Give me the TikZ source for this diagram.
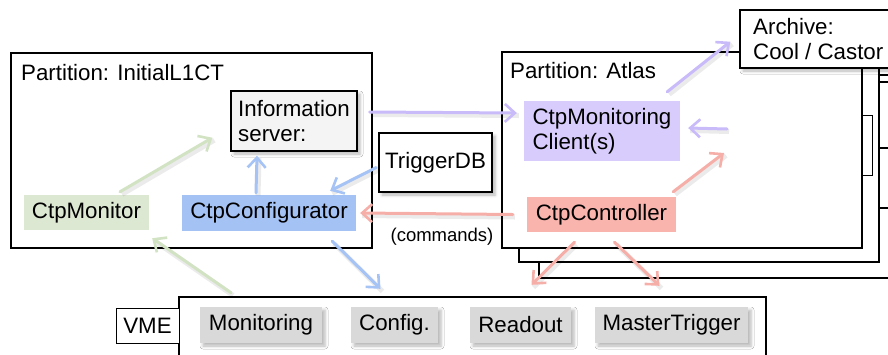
\documentclass[tikz,border=0pt]{standalone}
\usepackage{fontspec}
\setmainfont{Liberation Sans}
\usetikzlibrary{arrows.meta,shadows.blur,calc}
\definecolor{gfill}{HTML}{DDE8D3}
\definecolor{bfill}{HTML}{A4C2F4}
\definecolor{pfill}{HTML}{D8CCFC}
\definecolor{rfill}{HTML}{F9B4AE}
\definecolor{gyfill}{HTML}{D9D9D9}
\definecolor{infofill}{HTML}{F4F4F4}
\definecolor{garrc}{HTML}{D2E3C4}
\definecolor{barrc}{HTML}{A6C3F6}
\definecolor{parrc}{HTML}{C9BBFA}
\definecolor{rarrc}{HTML}{F6AEA8}
\begin{document}
\begin{tikzpicture}[x=1pt,y=-1pt,
  every node/.style={font=\fontsize{22.3}{25}\selectfont, inner sep=0pt},
  frame/.style={draw=black, line width=1.8pt, fill=white, rectangle},
  box/.style={draw=black, line width=1.4pt, rectangle},
  sh/.style={blur shadow={shadow xshift=3pt, shadow yshift=-3pt, shadow blur radius=3pt, shadow opacity=28}},
  flat/.style={rectangle, draw=none},
  lbl/.style={anchor=base west},
  arr/.style={line width=3pt, line cap=round,
    -{Straight Barb[length=10pt,width=18pt,line width=2.6pt]},
    preaction={draw=black, draw opacity=0.08, line width=5pt, -, transform canvas={shift={(2pt,-2.5pt)}}}},
  garr/.style={arr, draw=garrc},
  barr/.style={arr, draw=barrc},
  parr/.style={arr, draw=parrc},
  rarr/.style={arr, draw=rarrc}]
\useasboundingbox (0,0) rectangle (888,354);
\clip (0,0) rectangle (888,354);

% stacked partitions behind Atlas
\node[frame, minimum width=370pt, minimum height=203pt] (frameC) at (724,176.5) {};
\node[frame, minimum width=360pt, minimum height=202pt] (frameB) at (699,161) {};
\draw[line width=1.4pt] (879,82) -- (892,82);
\draw[line width=1.4pt] (879,148) -- (892,148);
\draw[line width=1.4pt] (879,208) -- (892,208);
\node[frame, minimum width=360pt, minimum height=196pt] (partA) at (682,150) {};
\node[box, fill=white, line width=1pt, minimum width=10pt, minimum height=60pt] (tab) at (867,145) {};
\node[lbl] (partAl) at (510,78) {Partition: Atlas};

% InitialL1CT partition
\node[frame, minimum width=361pt, minimum height=195pt] (partI) at (191.5,150.5) {};
\node[lbl] (partIl) at (21,80) {Partition: InitialL1CT};

% archive
\node[box, fill=white, sh, minimum width=160pt, minimum height=58pt] (archive) at (820,39) {};
\node[lbl, align=left] (archl) at (753,34) {Archive:};
\node[lbl, align=left] (archl2) at (753,59) {Cool / Castor};

% boxes
\node[box, fill=infofill, sh, minimum width=126pt, minimum height=60pt, align=left] (info) at (294,121) {Information\\server:};
\node[flat, fill=gfill, minimum width=125pt, minimum height=35pt] (ctpmon) at (86.5,212.5) {CtpMonitor};
\node[flat, fill=bfill, minimum width=174pt, minimum height=36pt] (ctpconf) at (269,213) {CtpConfigurator};
\node[box, fill=white, sh, minimum width=113pt, minimum height=59pt] (trigdb) at (435.5,162.5) {TriggerDB};
\node[font=\fontsize{18.5}{20}\selectfont] (cmds) at (442,237) {(commands)};
\node[flat, fill=pfill, minimum width=156pt, minimum height=60pt, align=left] (ctpmc) at (602,131) {CtpMonitoring\\Client(s)};
\node[flat, fill=rfill, minimum width=149pt, minimum height=35pt] (ctpctl) at (601.5,214.5) {CtpController};

% VME
\node[box, fill=white, line width=1.6pt, minimum width=587pt, minimum height=80pt] (vme) at (472.5,337) {};
\node[box, fill=white, line width=1pt, minimum width=63pt, minimum height=35pt] (vmel) at (147.5,325.5) {VME};
\node[flat, fill=gyfill, sh, minimum width=122pt, minimum height=36pt] (mon) at (261,325) {Monitoring};
\node[flat, fill=gyfill, sh, minimum width=87pt, minimum height=36pt] (cfg) at (394.5,325) {Config.};
\node[flat, fill=gyfill, sh, minimum width=101pt, minimum height=36pt] (rdo) at (520.5,325) {Readout};
\node[flat, fill=gyfill, sh, minimum width=153pt, minimum height=36pt] (mt) at (671.5,325) {MasterTrigger};

% free ends
\coordinate (pin) at (727,129);
\coordinate (pout) at (724,153);

% arrows
\draw[garr] ($(ctpmon.north)+(33.5,-3)$) -- ($(info.south west)+(-18,-14)$);
\draw[garr] ($(mon.north)+(-30,-14)$) -- ($(ctpmon.south east)+(3,8)$);
\draw[barr] ($(ctpconf.north)+(-13,-2)$) -- ($(info.south)+(-37,4)$);
\draw[barr] ($(trigdb.west)+(-2,5)$) -- ($(ctpconf.north east)+(-26,-4)$);
\draw[barr] ($(ctpconf.south east)+(-24,10)$) -- ($(cfg.north)+(-14,-18)$);
\draw[parr] ($(info.east)+(12,-9)$) -- ($(ctpmc.west)+(-7,-18)$);
\draw[parr] ($(ctpmc.north east)+(-13,-9)$) -- ($(archive.south west)+(-9,-27)$);
\draw[parr] (pin) -- ($(ctpmc.east)+(8,-3)$);
\draw[rarr] ($(ctpctl.north east)+(-3,-5)$) -- (pout);
\draw[rarr] ($(ctpctl.west)+(-14,0)$) -- ($(ctpconf.east)+(4,0)$);
\draw[rarr] ($(ctpctl.south)+(-27,10)$) -- ($(rdo.north)+(11,-22)$);
\draw[rarr] ($(ctpctl.south)+(13,10)$) -- ($(mt.north)+(-12,-21)$);
\end{tikzpicture}
\end{document}
